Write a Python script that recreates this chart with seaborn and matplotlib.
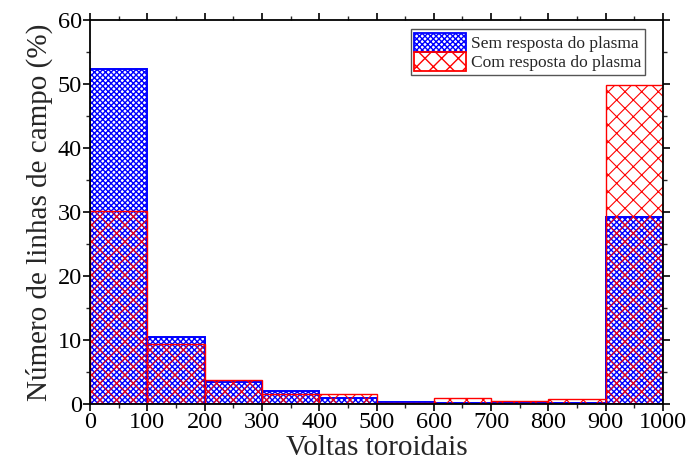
import numpy as np
import pandas as pd
import matplotlib
matplotlib.use("Agg")
import matplotlib.pyplot as plt
import seaborn as sns
from matplotlib.patches import Patch
from matplotlib.ticker import MultipleLocator

bin_edges = [0, 100, 200, 300, 400, 500, 600, 700, 800, 900, 1000]
sem_resposta = [52.3, 10.4, 3.4, 2.0, 1.0, 0.3, 0.1, 0.1, 0.1, 29.2]
com_resposta = [30.2, 9.4, 3.75, 1.5, 1.6, 0.2, 1.0, 0.4, 0.8, 49.8]
label_sem = "Sem resposta do plasma"
label_com = "Com resposta do plasma"

sns.set_theme(style="ticks")
plt.rcParams['font.family'] = ['Liberation Serif', 'DejaVu Serif']
plt.rcParams['hatch.linewidth'] = 1.0

centers = [(a + b) / 2 for a, b in zip(bin_edges[:-1], bin_edges[1:])]
df = pd.DataFrame({"x": centers, "sem": sem_resposta, "com": com_resposta})

fig = plt.figure(figsize=(6.9, 4.73), dpi=100)
ax = fig.add_axes([90/690, 1-404/473, (663-90)/690, (404-20)/473])


def style(p, color, hatch, lw, hlw, z):
    p.set_facecolor("none")
    p.set_edgecolor(color)
    p.set_hatch(hatch)
    p.set_linewidth(lw)
    p.set_alpha(1)
    p.set_zorder(z)
    if hasattr(p, "set_hatch_linewidth"):
        p.set_hatch_linewidth(hlw)


n0 = len(ax.patches)
sns.histplot(data=df, x="x", weights="sem", bins=bin_edges, ax=ax, color="blue")
for p in ax.patches[n0:]:
    style(p, "blue", "xxxxxx", 1.4, 1.0, 2)
n1 = len(ax.patches)
sns.histplot(data=df, x="x", weights="com", bins=bin_edges, ax=ax, color="red")
for p in ax.patches[n1:]:
    style(p, "red", "xx", 1.0, 0.8, 3)

ax.set_xlim(0, 1000)
ax.set_ylim(0, 60)
ax.xaxis.set_major_locator(MultipleLocator(100))
ax.xaxis.set_minor_locator(MultipleLocator(50))
ax.yaxis.set_major_locator(MultipleLocator(10))
ax.yaxis.set_minor_locator(MultipleLocator(5))
ax.tick_params(axis="both", which="major", direction="out", length=5, width=1.2,
               labelsize=17.5, pad=1, colors="black")
ax.tick_params(axis="both", which="minor", direction="out", length=3, width=1.0)
ax.tick_params(axis="x", which="both", top=True, labeltop=False)
ax.tick_params(axis="y", which="both", right=True, labelright=False)
for s in ax.spines.values():
    s.set_linewidth(1.3)
    s.set_color("black")
    s.set_zorder(5)

ax.set_xlabel("Voltas toroidais", fontsize=21, labelpad=1)
ax.set_ylabel("Número de linhas de campo (%)", fontsize=21, labelpad=3)

handles = [Patch(facecolor="none", edgecolor="blue", hatch="xxxxxx", linewidth=1.3, label=label_sem),
           Patch(facecolor="none", edgecolor="red", hatch="xx", linewidth=1.3, label=label_com)]
leg = ax.legend(handles=handles, loc="upper right", bbox_to_anchor=(0.975, 0.985),
                fontsize=12.5, frameon=True, fancybox=False, framealpha=1,
                edgecolor="#555555", handlelength=3.0, handleheight=1.3,
                handletextpad=0.3, borderpad=0.2, labelspacing=0.0, borderaxespad=0.2)
leg.get_frame().set_linewidth(1.0)
leg.set_zorder(6)

fig.savefig("out.png", dpi=100)
